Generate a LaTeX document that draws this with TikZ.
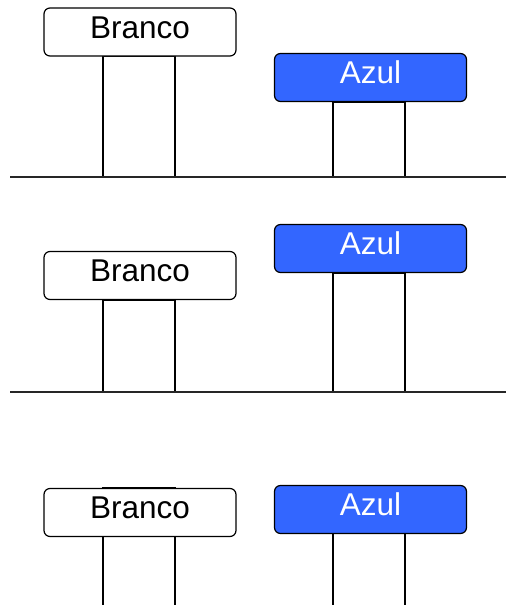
\documentclass[tikz,border=0pt]{standalone}
\usepackage{fontspec}
\setmainfont{Liberation Sans}
\definecolor{signblue}{HTML}{3366FF}
\begin{document}
\begin{tikzpicture}[x=1pt,y=-1pt,
  sign/.style={draw=black,line width=1.2pt,rounded corners=6pt,minimum width=192pt,minimum height=48pt,
    inner sep=0pt,font=\fontsize{31.5}{31.5}\selectfont,text height=22.5pt,text depth=10pt},
  white sign/.style={sign,fill=white,text=black},
  blue sign/.style={sign,fill=signblue,text=white},
  post/.style={draw=black,line width=1.2pt,fill=white,minimum width=72pt,inner sep=0pt,anchor=north},
  ground/.style={draw=black!85,line width=1.2pt}]
\clip (0,0) rectangle (506,605);
\fill[white] (0,0) rectangle (506,605);
% Panel 1
\node[post,minimum height=121pt] (p1a) at (139,56) {};
\node[post,minimum height=75pt] (p1b) at (369,102) {};
\node[white sign] (s1a) at (140,32) {Branco};
\node[blue sign] (s1b) at (370.5,77.5) {Azul};
\coordinate (g1l) at (10,177);
\coordinate (g1r) at (506,177);
\draw[ground] (g1l) -- (g1r);
% Panel 2
\node[post,minimum height=92pt] (p2a) at (139,300) {};
\node[post,minimum height=119pt] (p2b) at (369,273) {};
\node[white sign] (s2a) at (140,275.5) {Branco};
\node[blue sign] (s2b) at (370.5,248.5) {Azul};
\coordinate (g2l) at (10,392);
\coordinate (g2r) at (506,392);
\draw[ground] (g2l) -- (g2r);
% Panel 3
\node[post,minimum height=130pt] (p3a) at (139,487) {};
\node[post,minimum height=90pt] (p3b) at (369,533) {};
\node[white sign] (s3a) at (140,512.5) {Branco};
\node[blue sign] (s3b) at (370.5,509.5) {Azul};
\end{tikzpicture}
\end{document}
